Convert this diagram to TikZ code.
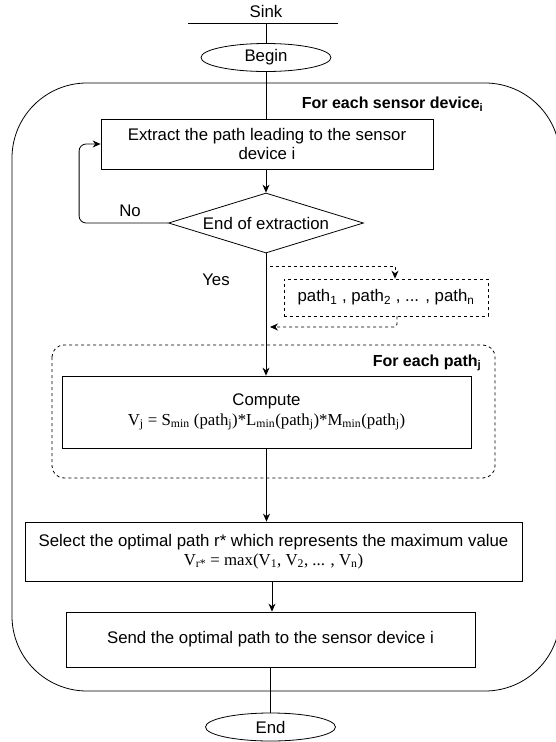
\documentclass[tikz,border=0pt]{standalone}
\usepackage{fontspec}
\setmainfont{Liberation Sans}
\newfontfamily\formfont{Liberation Serif}
\usetikzlibrary{shapes.geometric,arrows.meta,positioning}

\begin{document}
\begin{tikzpicture}[x=1pt, y=-1pt, line width=0.8pt, font=\fontsize{16.8}{19}\selectfont,
    stepbox/.style={draw, rectangle, align=center, inner sep=2pt},
    terminal/.style={draw, ellipse, minimum width=130, minimum height=28, inner sep=0pt},
    decision/.style={draw, diamond, shape aspect=3.25, minimum width=195, minimum height=60, inner sep=0pt},
    looplabel/.style={anchor=east, font=\fontsize{16}{18}\selectfont\bfseries},
    arr/.style={-{Stealth[length=8pt,width=7pt]}}]

    \useasboundingbox (0,0) rectangle (555,742);

    % sink and start
    \node (sink) at (266,11) {Sink};
    \coordinate (sinkL) at (188,23);
    \coordinate (sinkR) at (338,23);
    \coordinate (sinkC) at (266,23);
    \draw (sinkL) -- (sinkR);
    \node[terminal] (begin) at (266,57.5) {Begin};
    \draw (sinkC) -- (begin.north);

    % outer loop
    \draw[rounded corners=75] (12,83) rectangle (560,691);
    \node[looplabel] (devloop) at (487,104) {For each sensor device\textsubscript{\fontsize{11}{11}\selectfont i}};

    \node[stepbox, minimum width=332, minimum height=50] (extract) at (267,144)
        {Extract the path leading to the sensor\\device i};
    \node[decision] (decide) at (266,223) {End of extraction};

    \draw (begin.south) -- (begin.south |- extract.north);
    \draw[arr] (extract.south -| decide.north) -- (decide.north);
    \draw[arr, rounded corners=7] (decide.west) -- ++(-89,0) |- (extract.west);
    \node (no) at (130,211) {No};
    \node (yes) at (216,280) {Yes};

    % paths side box
    \node[stepbox, dashed, minimum width=204, minimum height=37] (paths) at (386,297.5)
        {path\textsubscript{1} , path\textsubscript{2} , ... , path\textsubscript{n}};
    \coordinate (tapOut) at (270,266);
    \coordinate (tapIn) at (270,327);
    \draw[arr, dashed] (tapOut) -| ([xshift=9]paths.north);
    \draw[arr, dashed, rounded corners=3] ([xshift=11]paths.south) |- (tapIn);

    % inner loop
    \draw[dashed, rounded corners=12] (52,345) rectangle (495,478);
    \node[looplabel] (pathloop) at (485,363) {For each path\textsubscript{j}};

    \node[stepbox, minimum width=409, minimum height=72] (compute) at (266.5,412)
        {Compute\\[1pt]{\formfont V\textsubscript{j} = S\textsubscript{min} (path\textsubscript{j})*L\textsubscript{min}(path\textsubscript{j})*M\textsubscript{min}(path\textsubscript{j})}};
    \draw[arr] (decide.south) -- (decide.south |- compute.north);

    \node[stepbox, minimum width=497, minimum height=59] (select) at (273.5,551.5)
        {Select the optimal path r* which represents the maximum value\\{\formfont V\textsubscript{r*} = max(V\textsubscript{1}, V\textsubscript{2}, ... , V\textsubscript{n})}};
    \draw[arr] (compute.south) -- (compute.south |- select.north);

    \node[stepbox, minimum width=409, minimum height=55] (send) at (270.5,639.5)
        {Send the optimal path to the sensor device i};
    \draw[arr] ([xshift=-1.5]select.south) -- ([xshift=1.5]send.north);

    \node[terminal] (end) at (270.5,727) {End};
    \draw (send.south) -- (end.north);

\end{tikzpicture}
\end{document}
